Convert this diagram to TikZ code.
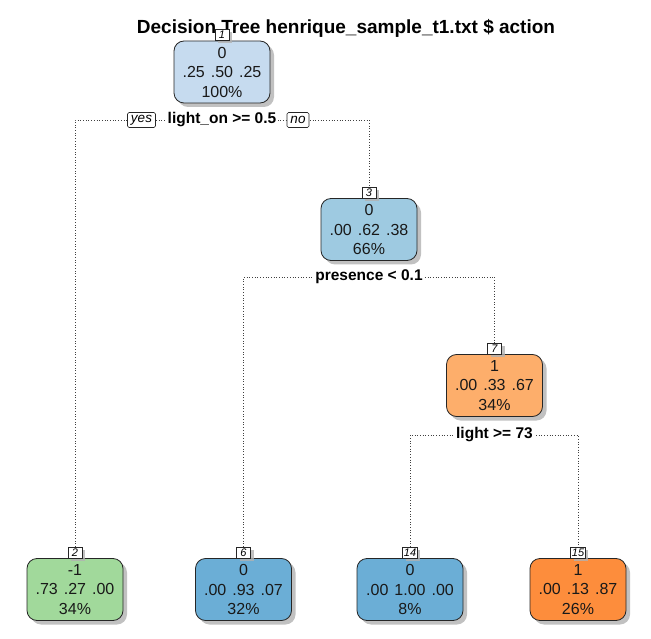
\documentclass[tikz,border=0pt]{standalone}
\usepackage{fontspec}
\setmainfont{Liberation Sans}
\usetikzlibrary{shadows}
\definecolor{c1}{HTML}{C6DBEF}
\definecolor{c3}{HTML}{9ECAE1}
\definecolor{c6}{HTML}{6BAED6}
\definecolor{cg}{HTML}{A1D99B}
\definecolor{co}{HTML}{FDAE6B}
\definecolor{cO}{HTML}{FD8D3C}
\newcommand{\gp}{\hspace{6pt}}
\begin{document}
\begin{tikzpicture}[x=1pt,y=-1pt,
  tnode/.style={draw=black!85, line width=0.8pt, rounded corners=10pt, minimum width=96pt, minimum height=62pt, inner sep=0pt, align=center,
    font=\fontsize{16}{19.5}\selectfont, text=black!90,
    drop shadow={shadow xshift=4pt, shadow yshift=-4pt, fill=black!30, opacity=0.8}},
  lab/.style={draw=black!85, fill=white, line width=0.5pt, inner sep=1.2pt, minimum height=11pt, minimum width=14pt,
    font=\fontsize{11}{11}\itshape\selectfont, anchor=south,
    drop shadow={shadow xshift=3pt, shadow yshift=-3pt, fill=black!30, opacity=0.8}},
  split/.style={fill=white, inner sep=1.5pt, font=\fontsize{15.5}{17}\bfseries\selectfont},
  yn/.style={draw=black!85, fill=white, rounded corners=1.5pt, line width=0.6pt, inner xsep=3.5pt, inner ysep=1.5pt, minimum height=15pt, font=\fontsize{13.5}{14}\itshape\selectfont},
  edge/.style={dotted, line width=0.7pt, black!75}]
\useasboundingbox (0,0) rectangle (651,639);
\node[font=\fontsize{19}{22}\bfseries\selectfont] (title) at (346,28) {Decision Tree henrique\_sample\_t1.txt \$ action};
% nodes
\node[tnode, fill=c1] (n1) at (222,72) {0\\.25\gp.50\gp.25\\100\%};
\node[tnode, fill=c3] (n3) at (369,229.5) {0\\.00\gp.62\gp.38\\66\%};
\node[tnode, fill=co] (n7) at (494.5,385.5) {1\\.00\gp.33\gp.67\\34\%};
\node[tnode, fill=cg] (n2) at (75,589.5) {-1\\.73\gp.27\gp.00\\34\%};
\node[tnode, fill=c6] (n6) at (243.5,589.5) {0\\.00\gp.93\gp.07\\32\%};
\node[tnode, fill=c6, minimum width=106pt] (n14) at (410,589.5) {0\\.00\gp1.00\gp.00\\8\%};
\node[tnode, fill=cO] (n15) at (578,589.5) {1\\.00\gp.13\gp.87\\26\%};
% labels
\node[lab] (l1) at (n1.north) {1};
\node[lab] (l3) at (n3.north) {3};
\node[lab] (l7) at (n7.north) {7};
\node[lab] (l2) at (n2.north) {2};
\node[lab] (l6) at (n6.north) {6};
\node[lab] (l14) at (n14.north) {14};
\node[lab] (l15) at (n15.north) {15};
% split coordinates
\coordinate (c1) at (222,120);
\coordinate (c3) at (369,277);
\coordinate (c7) at (494.5,435);
\draw[edge] (l2.north) |- (c1) -| (l3.north);
\draw[edge] (l6.north) |- (c3) -| (l7.north);
\draw[edge] (l14.north) |- (c7) -| (l15.north);
% split texts
\node[split] (s1) at (c1) {light\_on >= 0.5};
\node[split] (s3) at (c3) {presence < 0.1};
\node[split] (s7) at (c7) {light >= 73};
\node[yn] (yes) at (141.5,120) {yes};
\node[yn] (no) at (298,120) {no};
\end{tikzpicture}
\end{document}
